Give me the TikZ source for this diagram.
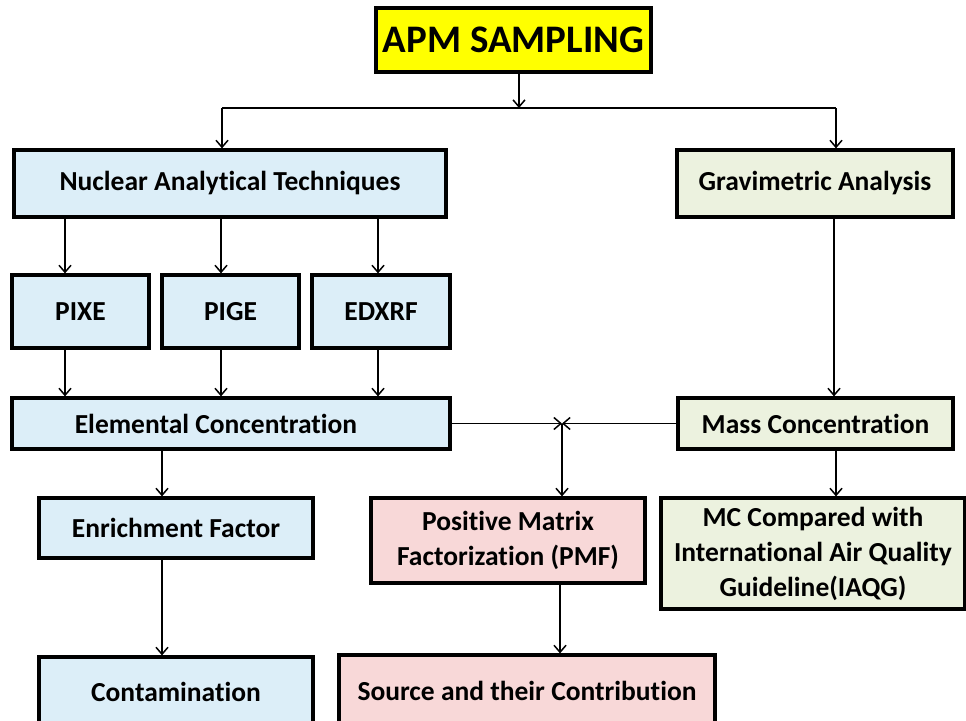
\documentclass[tikz,border=0pt]{standalone}
\usepackage{fontspec}
\setmainfont{Carlito}[Ligatures=NoCommon]
\usetikzlibrary{arrows.meta}

\definecolor{boxblue}{HTML}{DCEEF8}
\definecolor{boxgreen}{HTML}{ECF2DF}
\definecolor{boxpink}{HTML}{F8D8D8}
\definecolor{boxyellow}{HTML}{FFFF00}

\tikzset{
  box/.style={draw=black, line width=3.2pt, inner sep=0pt, align=center,
    font=\fontsize{27.5}{35}\selectfont\bfseries},
  bluebox/.style={box, fill=boxblue},
  greenbox/.style={box, fill=boxgreen},
  pinkbox/.style={box, fill=boxpink},
  arr/.style={line width=1.5pt, -{Straight Barb[length=7pt,width=12pt,line width=1.5pt]}},
  link/.style={line width=1.5pt}
}

\begin{document}
\begin{tikzpicture}[x=1pt, y=-1pt]
      \useasboundingbox (0,0) rectangle (966,720);
      \clip (0,0) rectangle (966,720);
      \fill[white] (0,0) rectangle (966,720);
      % boxes
      \node[box, fill=boxyellow, minimum width=275pt, minimum height=64pt,
            font=\fontsize{39}{46}\selectfont\bfseries] (apm) at (513.5, 40) {APM SAMPLING};
      \node[bluebox, minimum width=432pt, minimum height=67pt] (nat) at (230, 183.5) {Nuclear Analytical Techniques};
      \node[greenbox, minimum width=276pt, minimum height=67pt] (grav) at (815, 183.5) {\raisebox{-6pt}{Gravimetric Analysis}};
      \node[bluebox, minimum width=137pt, minimum height=73pt] (pixe) at (80.5, 311.5) {\raisebox{-4pt}{PIXE}};
      \node[bluebox, minimum width=137pt, minimum height=73pt] (pige) at (230.5, 311.5) {PIGE};
      \node[bluebox, minimum width=138pt, minimum height=73pt] (edxrf) at (381, 311.5) {EDXRF};
      \node[bluebox, minimum width=438pt, minimum height=51pt] (elem) at (231, 423.5) {Elemental Concentration\hspace{30pt}};
      \node[greenbox, minimum width=275pt, minimum height=51pt] (mass) at (815.5, 423.5) {Mass Concentration};
      \node[bluebox, minimum width=274pt, minimum height=60pt] (enrich) at (176, 528) {Enrichment Factor};
      \node[pinkbox, minimum width=274pt, minimum height=85pt] (pmf) at (508, 540.5) {Positive Matrix\\Factorization (PMF)};
      \node[greenbox, minimum width=304pt, minimum height=111pt] (mccomp) at (813, 553.5) {MC Compared with\\International Air Quality\\Guideline(IAQG)};
      \node[bluebox, minimum width=274pt, minimum height=70pt] (contam) at (176, 692) {Contamination};
      \node[pinkbox, minimum width=376pt, minimum height=72pt] (source) at (527, 691) {Source and their Contribution};
      % connectors
      \coordinate (split) at (519, 108);
      \coordinate (meet) at (562, 423.5);
      \draw[arr] (split |- apm.south) -- (split);
      \draw[link] (222,0 |- split) -- (836,0 |- split);
      \draw[arr] (222,0 |- split) -- (222,0 |- nat.north);
      \draw[arr] (836,0 |- split) -- (836,0 |- grav.north);
      \draw[arr] (65,0 |- nat.south) -- (65,0 |- pixe.north);
      \draw[arr] (221,0 |- nat.south) -- (221,0 |- pige.north);
      \draw[arr] (378,0 |- nat.south) -- (378,0 |- edxrf.north);
      \draw[arr] (65,0 |- pixe.south) -- (65,0 |- elem.north);
      \draw[arr] (221,0 |- pige.south) -- (221,0 |- elem.north);
      \draw[arr] (378,0 |- edxrf.south) -- (378,0 |- elem.north);
      \draw[arr] (834,0 |- grav.south) -- (834,0 |- mass.north);
      \draw[arr] (elem.east) -- (meet);
      \draw[arr] (mass.west) -- (meet);
      \draw[arr] (meet) -- (meet |- pmf.north);
      \draw[arr] (162,0 |- elem.south) -- (162,0 |- enrich.north);
      \draw[arr] (836,0 |- mass.south) -- (836,0 |- mccomp.north);
      \draw[arr] (162,0 |- enrich.south) -- (162,0 |- contam.north);
      \draw[arr] (560,0 |- pmf.south) -- (560,0 |- source.north);
\end{tikzpicture}
\end{document}
